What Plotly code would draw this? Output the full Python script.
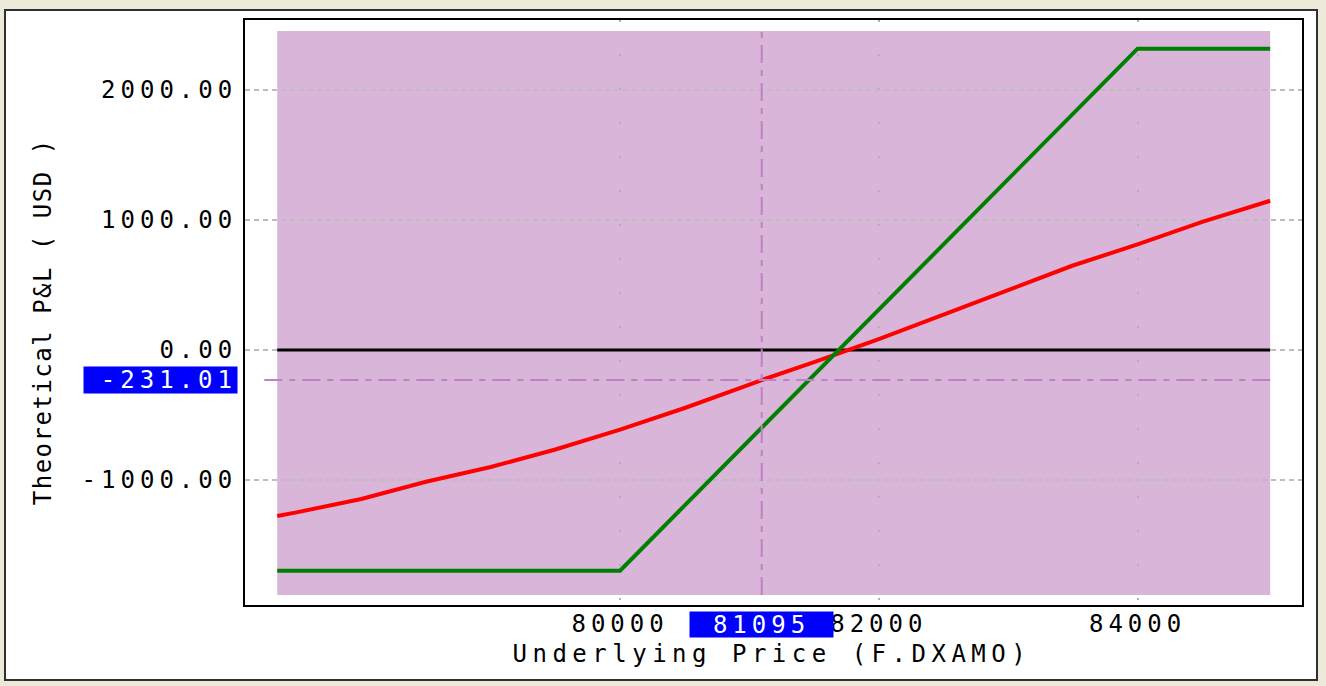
import plotly.graph_objects as go

# ---- data ----
red_prices = [77350, 77500, 78000, 78500, 79000, 79500, 80000, 80500, 81000, 81095,
              81500, 82000, 82500, 83000, 83500, 84000, 84500, 85025]
red_pnl = [-1277, -1249, -1146, -1013, -900, -765, -613, -446, -266, -231,
           -94, 84, 272, 462, 650, 812, 985, 1148]

green_prices = [77350, 80000, 80500, 81000, 81500, 82000, 82500, 83000, 83500, 84000, 85025]
green_pnl = [-1698, -1698, -1195, -693, -190, 312, 814, 1316, 1817, 2318, 2318]

y_tickvals = [-1000, 0, 1000, 2000]
y_ticktext = ["-1000.00", "0.00", "1000.00", "2000.00"]
x_tickvals = [80000, 82000, 84000]
x_ticktext = ["80000", "82000", "84000"]

cursor_price = 81095
cursor_pnl = -231.01
cursor_price_label = "81095"
cursor_pnl_label = "-231.01"

x_title = "Underlying Price (F.DXAMO)"
y_title = "Theoretical P&L ( USD )"

FONT = "DejaVu Sans Mono"
PURPLE = "#DAB5DA"
CURSOR = "#BF7FC4"

W, H = 1326, 686
L, R, T, B = 245, 1302, 20, 605
pw, ph = R - L, B - T


def px(xp):
    return (xp - L) / pw


def py(yp):
    return (B - yp) / ph


xmin, xmax = min(red_prices + green_prices), max(red_prices + green_prices)

fig = go.Figure()

# zero line across data extent
fig.add_trace(go.Scatter(x=[xmin, xmax], y=[0, 0], mode="lines",
                         line=dict(color="black", width=3), hoverinfo="skip"))
fig.add_trace(go.Scatter(x=red_prices, y=red_pnl, mode="lines",
                         line=dict(color="#FF0000", width=4), name="red"))
fig.add_trace(go.Scatter(x=green_prices, y=green_pnl, mode="lines",
                         line=dict(color="#008000", width=4), name="green"))

shapes = [
    # outer white panel
    dict(type="rect", xref="paper", yref="paper", x0=px(5), x1=px(1317), y0=py(680), y1=py(10),
         fillcolor="white", line=dict(color="#303030", width=2), layer="below"),
    # purple data region
    dict(type="rect", xref="x", yref="y domain", x0=xmin, x1=xmax, y0=py(595), y1=py(31),
         fillcolor=PURPLE, line=dict(width=0), layer="below"),
    # cursor lines
    dict(type="line", xref="x", yref="y domain", x0=cursor_price, x1=cursor_price,
         y0=py(595), y1=py(31), line=dict(color=CURSOR, width=2, dash="18px,7px,6px,7px")),
    dict(type="line", xref="x", yref="y", x0=77250, x1=xmax, y0=cursor_pnl, y1=cursor_pnl,
         line=dict(color=CURSOR, width=2, dash="18px,7px,6px,7px")),
]

annotations = [
    dict(text=cursor_pnl_label, xref="paper", yref="y", x=0, y=cursor_pnl, xanchor="right",
         yanchor="middle", xshift=-7, showarrow=False, bgcolor="#0000FF", width=153, height=26,
         align="right", font=dict(family=FONT, size=24, color="white"), borderpad=0),
    dict(text=cursor_price_label, xref="x", yref="paper", x=cursor_price, y=0, xanchor="center",
         yanchor="top", yshift=-6, showarrow=False, bgcolor="#0000FF", width=143, height=25,
         align="center", font=dict(family=FONT, size=24, color="white"), borderpad=0),
    dict(text=y_title, xref="paper", yref="paper", x=px(43), y=py(322), xanchor="center",
         yanchor="middle", textangle=-90, showarrow=False,
         font=dict(family=FONT, size=24, color="black")),
    dict(text=x_title, xref="paper", yref="paper", x=px(772), y=py(654), xanchor="center",
         yanchor="middle", showarrow=False,
         font=dict(family=FONT, size=24, color="black")),
]

fig.update_layout(
    width=W, height=H,
    margin=dict(l=L, r=W - R, t=T, b=H - B, pad=0),
    paper_bgcolor="#ECE9D8",
    plot_bgcolor="white",
    showlegend=False,
    shapes=shapes,
    annotations=annotations,
    font=dict(family=FONT, size=24, color="black"),
)

fig.update_xaxes(
    range=[77101, 85271], tickvals=x_tickvals, ticktext=x_ticktext,
    showline=True, mirror=True, linecolor="black", linewidth=2,
    showgrid=True, gridcolor="#B0B0B0", gridwidth=1.5, griddash="2px,32px",
    zeroline=False, ticks="", ticklabelstandoff=0,
    tickfont=dict(family=FONT, size=24, color="black"),
)
fig.update_yaxes(
    range=[-1961.5, 2538.5], tickvals=y_tickvals, ticktext=y_ticktext,
    showline=True, mirror=True, linecolor="black", linewidth=2,
    showgrid=True, gridcolor="#BDBDBD", gridwidth=1.5, griddash="5px,4px",
    zeroline=False, ticks="", ticklabelstandoff=1,
    tickfont=dict(family=FONT, size=24, color="black"),
)

post = """
document.documentElement.style.margin = '0';
document.body.style.margin = '0';
document.body.style.padding = '0';
document.body.style.overflow = 'hidden';
var gd = document.querySelector('.plotly-graph-div');
function sp(el, v){ el.setAttribute('letter-spacing', v); el.style.letterSpacing = v; }
gd.querySelectorAll('.ytick text').forEach(function(t){ sp(t, '5px'); });
gd.querySelectorAll('.xtick text').forEach(function(t){
  sp(t, '5px');
  var y = parseFloat(t.getAttribute('y'));
  if (!isNaN(y)) { t.setAttribute('y', y - 4); }
});
var anns = gd.querySelectorAll('.annotation-text');
if (anns.length >= 4) { sp(anns[0], '5px'); sp(anns[1], '5px'); sp(anns[2], '1.5px'); sp(anns[3], '5.5px'); }
"""

fig.write_html("out.html", post_script=post, config={"displayModeBar": False})
